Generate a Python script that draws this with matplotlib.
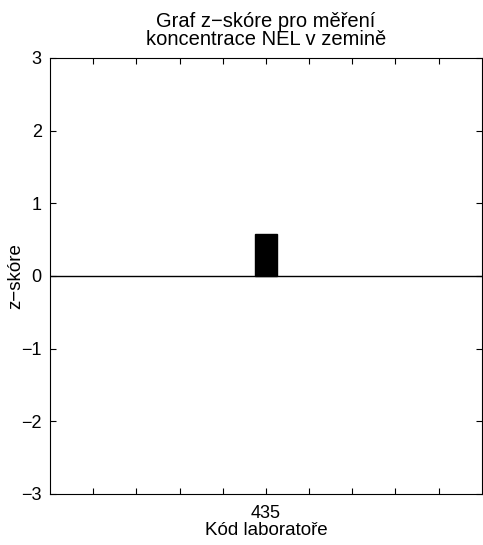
import matplotlib.pyplot as plt

# data
labs = ['435']
zscore = [0.58]
lab_pos = [5]

plt.rcParams['font.family'] = ['Liberation Sans', 'DejaVu Sans']

fig = plt.figure(figsize=(4.83, 5.45), dpi=100)
ax = fig.add_axes([0.1035, 0.0936, 0.894, 0.80])

ax.bar(lab_pos, zscore, width=0.5, color='black', edgecolor='black', zorder=3)
ax.axhline(0, color='black', lw=1)

ax.set_xlim(0, 10)
ax.set_ylim(-3, 3)
ax.set_xticks(range(1, 10))
ax.set_xticklabels(['435' if i in lab_pos else '' for i in range(1, 10)])
ax.set_yticks(range(-3, 4))
ax.tick_params(direction='in', top=True, right=True, length=4, labelsize=13)
ax.tick_params(axis='x', pad=8)
ax.tick_params(axis='y', pad=6)

ax.set_xlabel('Kód laboratoře', fontsize=13.5, labelpad=0)
ax.set_ylabel('z\u2212skóre', fontsize=13.5)
ax.yaxis.set_label_coords(-0.06, 0.5)
ax.set_title('Graf z\u2212skóre pro měření\nkoncentrace NEL v zemině', fontsize=14.5, pad=9, linespacing=0.95)

plt.savefig('out.png', dpi=100)
